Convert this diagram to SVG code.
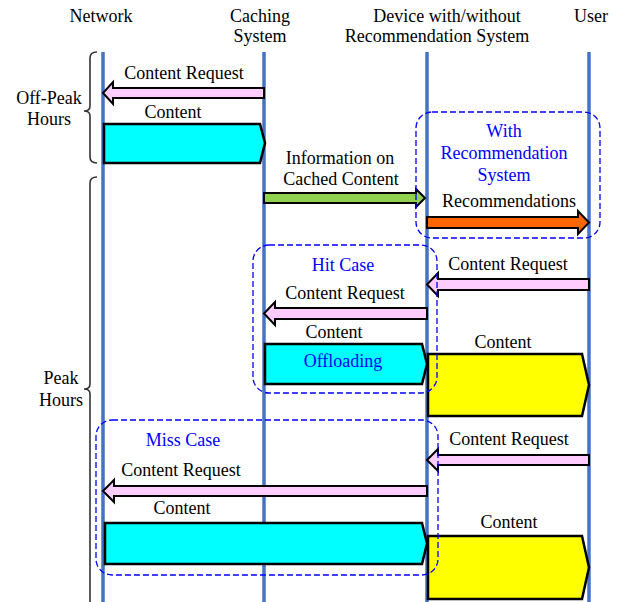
<svg xmlns="http://www.w3.org/2000/svg" width="622" height="602" viewBox="0 0 622 602">
<style>
text{font-family:"Liberation Serif","Times New Roman",serif;font-size:18px;fill:#000;text-anchor:middle}
.blue{fill:#0000FF}
.life{stroke:#4472C4;stroke-width:3.5;fill:none}
.brace{stroke:#333;stroke-width:1.6;fill:none}
.req{fill:#FFCCFF;stroke:#000;stroke-width:2;stroke-linejoin:miter}
.cyan{fill:#00FFFF;stroke:#000;stroke-width:2.5}
.yel{fill:#FFFF00;stroke:#000;stroke-width:2.5}
.grn{fill:#92D050;stroke:#000;stroke-width:2}
.org{fill:#FF6600;stroke:#000;stroke-width:2}
.dash{fill:none;stroke:#0000FF;stroke-width:1.3;stroke-dasharray:6,3}
</style>
<rect width="622" height="602" fill="#fff"/>
<g id="lifelines">
<g id="network"><text x="101" y="22">Network</text><line class="life" x1="103" y1="52" x2="103" y2="602"/></g>
<g id="caching"><text x="260" y="22">Caching</text><text x="260" y="42">System</text><line class="life" x1="264" y1="52" x2="264" y2="602"/></g>
<g id="device"><text x="447" y="22">Device with/without</text><text x="437" y="42">Recommendation System</text><line class="life" x1="427" y1="52" x2="427" y2="602"/></g>
<g id="user"><text x="591" y="22">User</text><line class="life" x1="589" y1="52" x2="589" y2="602"/></g>
</g>
<g id="offpeak">
<path class="brace" d="M97,52 Q90,52 90,58 L90,106 Q90,111 84,111 Q90,111 90,116 L90,157 Q90,163 97,163"/>
<text x="49" y="104">Off-Peak</text><text x="49" y="125">Hours</text>
</g>
<g id="peak">
<path class="brace" d="M97,177 Q90,177 90,183 L90,384 Q90,389 84,389 Q90,389 90,394 L90,602"/>
<text x="61" y="384">Peak</text><text x="61" y="406">Hours</text>
</g>
<g id="connectors">
<g id="m1"><polygon class="req" points="264,88 113,88 113,82 103,93 113,104 113,98 264,98"/><text x="184" y="79">Content Request</text></g>
<g id="m2"><polygon class="cyan" points="104,124 260,124 265,143 260,163 104,163"/><text x="173" y="118">Content</text></g>
<g id="m3"><polygon class="grn" points="264,193 416,193 416,189 425,198 416,207 416,203 264,203"/><text x="340" y="164">Information on</text><text x="341" y="185">Cached Content</text></g>
<g id="m4"><polygon class="org" points="427,217 578,217 578,211 589,222.5 578,234 578,228 427,228"/><text x="509" y="207">Recommendations</text></g>
<g id="m5"><polygon class="req" points="589,279 438,279 438,273 427,284.5 438,296 438,290 589,290"/><text x="508" y="270">Content Request</text></g>
<g id="m6"><polygon class="req" points="427,308 275,308 275,302 264,313.5 275,325 275,319 427,319"/><text x="345" y="299">Content Request</text></g>
<g id="m7"><polygon class="cyan" points="265,344 422,344 427,364 422,384 265,384"/><text x="334" y="338">Content</text><text class="blue" x="343" y="367">Offloading</text></g>
<g id="m8"><polygon class="yel" points="428,354 582,354 589,385 582,416 428,416"/><text x="503" y="348">Content</text></g>
<g id="m9"><polygon class="req" points="589,455 438,455 438,449 427,460 438,471 438,465 589,465"/><text x="509" y="445">Content Request</text></g>
<g id="m10"><polygon class="req" points="427,486 114,486 114,480 103,491 114,502 114,496 427,496"/><text x="181" y="476">Content Request</text></g>
<g id="m11"><polygon class="cyan" points="105,523 422,523 427,543.5 422,564 105,564"/><text x="182" y="514">Content</text></g>
<g id="m12"><polygon class="yel" points="428,536 582,536 589,567.5 582,599 428,599"/><text x="509" y="528">Content</text></g>
</g>
<g id="with-rec"><rect class="dash" x="416" y="112" width="184" height="126" rx="16"/><text class="blue" x="504" y="137">With</text><text class="blue" x="504" y="159">Recommendation</text><text class="blue" x="504" y="181">System</text></g>
<g id="hit-case"><rect class="dash" x="253" y="245" width="184" height="148" rx="16"/><text class="blue" x="343" y="271">Hit Case</text></g>
<g id="miss-case"><rect class="dash" x="96" y="420" width="342" height="155" rx="16"/><text class="blue" x="183" y="446">Miss Case</text></g>
</svg>
